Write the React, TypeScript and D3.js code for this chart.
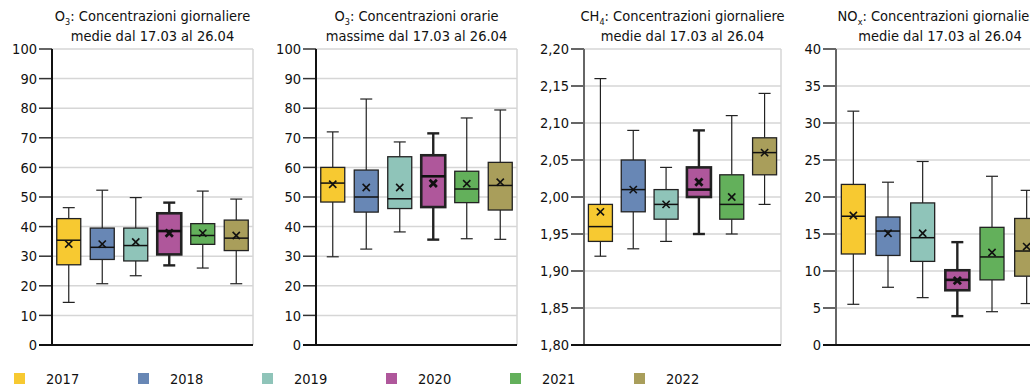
import React, { useEffect } from "react";
import * as d3 from "d3";

const years = ["2017", "2018", "2019", "2020", "2021", "2022"];
const yearColors = ["#F7C931", "#6887B5", "#8FC4B9", "#AF579B", "#63B05B", "#A99E5B"];

// columns: whisker low, Q1, median, Q3, whisker high, mean
const o3DailyMean = [
  [14.4, 27.1, 35.4, 42.7, 46.4, 34.1],
  [20.7, 28.9, 33.0, 39.5, 52.3, 34.1],
  [23.4, 28.4, 33.6, 39.5, 49.8, 34.8],
  [26.9, 30.6, 38.5, 44.5, 48.1, 37.8],
  [26.0, 34.0, 37.0, 41.0, 52.0, 37.8],
  [20.7, 31.9, 36.1, 42.2, 49.3, 37.0],
];
const o3HourlyMax = [
  [29.8, 48.3, 54.7, 60.0, 72.0, 54.3],
  [32.4, 44.9, 50.0, 59.1, 83.1, 53.2],
  [38.2, 46.1, 49.4, 63.6, 68.6, 53.2],
  [35.6, 46.6, 57.0, 64.1, 71.5, 54.6],
  [35.9, 48.1, 52.7, 58.7, 76.7, 54.5],
  [35.7, 45.6, 53.9, 61.7, 79.4, 55.0],
];
const ch4DailyMean = [
  [1.92, 1.94, 1.96, 1.99, 2.16, 1.98],
  [1.93, 1.98, 2.01, 2.05, 2.09, 2.01],
  [1.94, 1.97, 1.99, 2.01, 2.04, 1.99],
  [1.95, 2.0, 2.01, 2.04, 2.09, 2.02],
  [1.95, 1.97, 1.99, 2.03, 2.11, 2.0],
  [1.99, 2.03, 2.06, 2.08, 2.14, 2.06],
];
const noxDailyMean = [
  [5.5, 12.3, 17.4, 21.7, 31.6, 17.5],
  [7.8, 12.1, 15.4, 17.3, 22.0, 15.1],
  [6.4, 11.3, 14.5, 19.2, 24.8, 15.1],
  [3.9, 7.4, 8.8, 10.1, 13.9, 8.7],
  [4.5, 8.8, 11.9, 15.9, 22.8, 12.5],
  [5.6, 9.3, 12.7, 17.1, 20.9, 13.3],
];

const o3Ticks = [0, 10, 20, 30, 40, 50, 60, 70, 80, 90, 100];
const ch4Ticks = [1.8, 1.85, 1.9, 1.95, 2.0, 2.05, 2.1, 2.15, 2.2];
const noxTicks = [0, 5, 10, 15, 20, 25, 30, 35, 40];

const titleSpecies = ["O", "O", "CH", "NO"];
const titleSubs = ["3", "3", "4", "x"];
const titleLine1 = [": Concentrazioni giornaliere", ": Concentrazioni orarie", ": Concentrazioni giornaliere", ": Concentrazioni giornaliere"];
const titleLine2 = ["medie dal 17.03 al 26.04", "massime dal 17.03 al 26.04", "medie dal 17.03 al 26.04", "medie dal 17.03 al 26.04"];

const FONT = "'DejaVu Sans Condensed', 'DejaVu Sans', sans-serif";
const FS = 14.5;
const TOP = 49;
const BOTTOM = 345;

const panels = [
  { data: o3DailyMean, ticks: o3Ticks, domain: [0, 100], fmt: (v: number) => d3.format("d")(v), left: 52, right: 253, axisColor: "#111" },
  { data: o3HourlyMax, ticks: o3Ticks, domain: [0, 100], fmt: (v: number) => d3.format("d")(v), left: 316, right: 517, axisColor: "#111" },
  { data: ch4DailyMean, ticks: ch4Ticks, domain: [1.8, 2.2], fmt: (v: number) => d3.format(".2f")(v).replace(".", ","), left: 584, right: 781, axisColor: "#666" },
  { data: noxDailyMean, ticks: noxTicks, domain: [0, 40], fmt: (v: number) => d3.format("d")(v), left: 836, right: 1044, axisColor: "#666" },
];

function Panel({ p, idx }: { p: any; idx: number }) {
  const y = d3.scaleLinear().domain(p.domain).range([BOTTOM, TOP]);
  const x = d3.scaleBand<string>().domain(years).range([p.left, p.right]).paddingInner(0).paddingOuter(0);
  const bw = 24;
  const cx = (p.left + p.right) / 2;
  return (
    <g>
      <text x={cx} y={21} textAnchor="middle" fontFamily={FONT} fontSize={FS} fill="#111">
        {titleSpecies[idx]}
        <tspan fontSize={9} dy={4}>{titleSubs[idx]}</tspan>
        <tspan dy={-4}>{titleLine1[idx]}</tspan>
      </text>
      <text x={cx} y={41} textAnchor="middle" fontFamily={FONT} fontSize={FS} fill="#111">
        {titleLine2[idx]}
      </text>
      {p.ticks.map((t: number) => (
        <g key={t}>
          {t !== p.domain[0] && (
            <line x1={p.left} x2={p.right} y1={y(t)} y2={y(t)} stroke="#d6d6d6" strokeWidth={1.5} />
          )}
          <line x1={p.left - 13} x2={p.left} y1={y(t)} y2={y(t)} stroke="#333" strokeWidth={1.5} />
          <text x={p.left - 15} y={y(t)} dy="0.36em" textAnchor="end" fontFamily={FONT} fontSize={FS} fill="#111">
            {p.fmt(t)}
          </text>
        </g>
      ))}
      <line x1={p.right} x2={p.right} y1={TOP} y2={BOTTOM} stroke="#d6d6d6" strokeWidth={1.5} />
      <line x1={p.left} x2={p.left} y1={TOP} y2={BOTTOM} stroke={p.axisColor} strokeWidth={2} />
      <line x1={p.left - 13} x2={p.right} y1={BOTTOM} y2={BOTTOM} stroke="#111" strokeWidth={1.8} />
      {years.map((yr, i) => {
        const [lo, q1, med, q3, hi, mean] = p.data[i];
        const c = (x(yr) as number) + x.bandwidth() / 2;
        const bold = yr === "2020";
        const sw = bold ? 2.6 : 1.3;
        const ws = bold ? 2.4 : 1.2;
        const ms = 3.6;
        const my = y(mean);
        return (
          <g key={yr}>
            <line x1={c} x2={c} y1={y(hi)} y2={y(q3)} stroke="#222" strokeWidth={ws} />
            <line x1={c} x2={c} y1={y(q1)} y2={y(lo)} stroke="#222" strokeWidth={ws} />
            <line x1={c - 6} x2={c + 6} y1={y(hi)} y2={y(hi)} stroke="#222" strokeWidth={ws} />
            <line x1={c - 6} x2={c + 6} y1={y(lo)} y2={y(lo)} stroke="#222" strokeWidth={ws} />
            <rect x={c - bw / 2} y={y(q3)} width={bw} height={y(q1) - y(q3)} fill={yearColors[i]} stroke="#222" strokeWidth={sw} />
            <line x1={c - bw / 2} x2={c + bw / 2} y1={y(med)} y2={y(med)} stroke="#111" strokeWidth={bold ? 2.6 : 1.5} />
            <line x1={c - ms} x2={c + ms} y1={my - ms} y2={my + ms} stroke="#111" strokeWidth={bold ? 2.8 : 1.6} />
            <line x1={c - ms} x2={c + ms} y1={my + ms} y2={my - ms} stroke="#111" strokeWidth={bold ? 2.8 : 1.6} />
          </g>
        );
      })}
    </g>
  );
}

export default function App() {
  useEffect(() => {
    document.body.style.margin = "0";
  }, []);
  return (
    <svg width={1030} height={389} style={{ display: "block", background: "#fff" }}>
      {panels.map((p, i) => (
        <Panel key={i} p={p} idx={i} />
      ))}
      {years.map((yr, i) => (
        <g key={yr}>
          <rect x={14 + i * 124} y={373} width={11} height={11} fill={yearColors[i]} />
          <text x={46 + i * 124} y={384} fontFamily={FONT} fontSize={FS} fill="#111">
            {yr}
          </text>
        </g>
      ))}
    </svg>
  );
}
